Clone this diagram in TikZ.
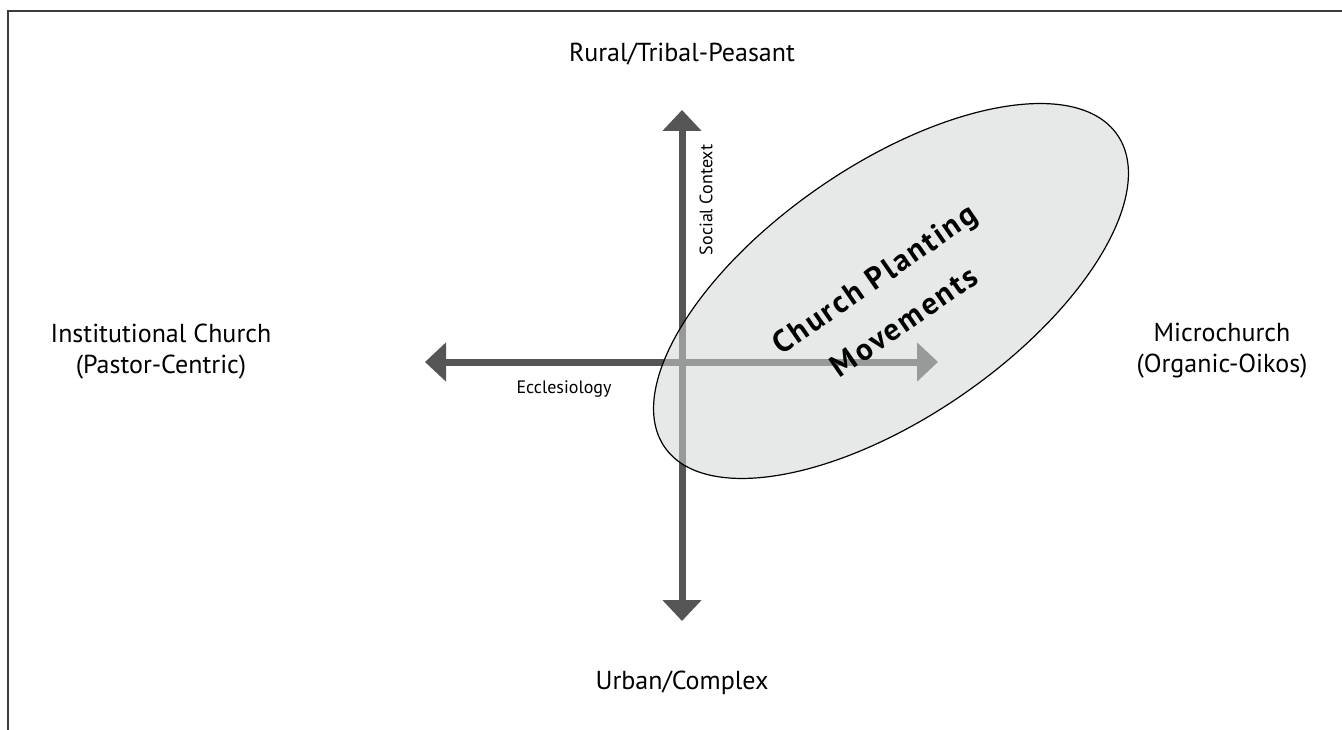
\documentclass[tikz,border=0pt]{standalone}
\usepackage{fontspec}
\setmainfont{PT Sans}
\newfontfamily\cpmfont[LetterSpace=7]{PT Sans}
\usetikzlibrary{arrows.meta,shapes.geometric}
\definecolor{axisgray}{RGB}{85,85,85}
\definecolor{framegray}{RGB}{60,60,60}
\definecolor{ellfill}{RGB}{210,213,213}
\tikzset{
  frameline/.style={draw=framegray, line width=2pt},
  axis/.style={draw=axisgray, line width=7pt, {Triangle[width=38pt,length=21pt]}-{Triangle[width=38pt,length=21pt]}},
  biglabel/.style={font=\fontsize{26}{31}\selectfont, align=center, text=black},
  smalllabel/.style={font=\fontsize{18}{21}\selectfont, text=black},
  cpmtext/.style={font=\cpmfont\bfseries\fontsize{31}{52}\selectfont, align=center, text=black},
}
\begin{document}
\begin{tikzpicture}[x=1pt,y=-1pt]
\useasboundingbox (0,0) rectangle (1342,730);
\draw[frameline] (8,730) -- (8,11) -- (1342,11);
% axis end points
\coordinate (vtop) at (682,110);
\coordinate (vbot) at (682,621);
\coordinate (hleft) at (425,362);
\coordinate (hright) at (938,362);
\draw[axis] (vtop) -- (vbot);
\draw[axis] (hleft) -- (hright);
% ellipse
\node[ellipse, draw=black, line width=1.2pt, fill=ellfill, fill opacity=0.54, inner sep=0pt,
      minimum width=550pt, minimum height=252pt, rotate=34.6] (cpm) at (891,291) {};
\node[cpmtext, rotate=34.6] (cpmlabel) at (889,300) {Church Planting\\Movements};
% labels
\node[biglabel] (rural) at (682,54) {Rural/Tribal-Peasant};
\node[biglabel] (urban) at (682,683) {Urban/Complex};
\node[biglabel] (inst) at (161,352) {Institutional Church\\(Pastor-Centric)};
\node[biglabel] (micro) at (1222,351) {Microchurch\\(Organic-Oikos)};
\node[smalllabel] (eccl) at (564,389) {Ecclesiology};
\node[smalllabel, rotate=90] (social) at (706,200) {Social Context};
\end{tikzpicture}
\end{document}
